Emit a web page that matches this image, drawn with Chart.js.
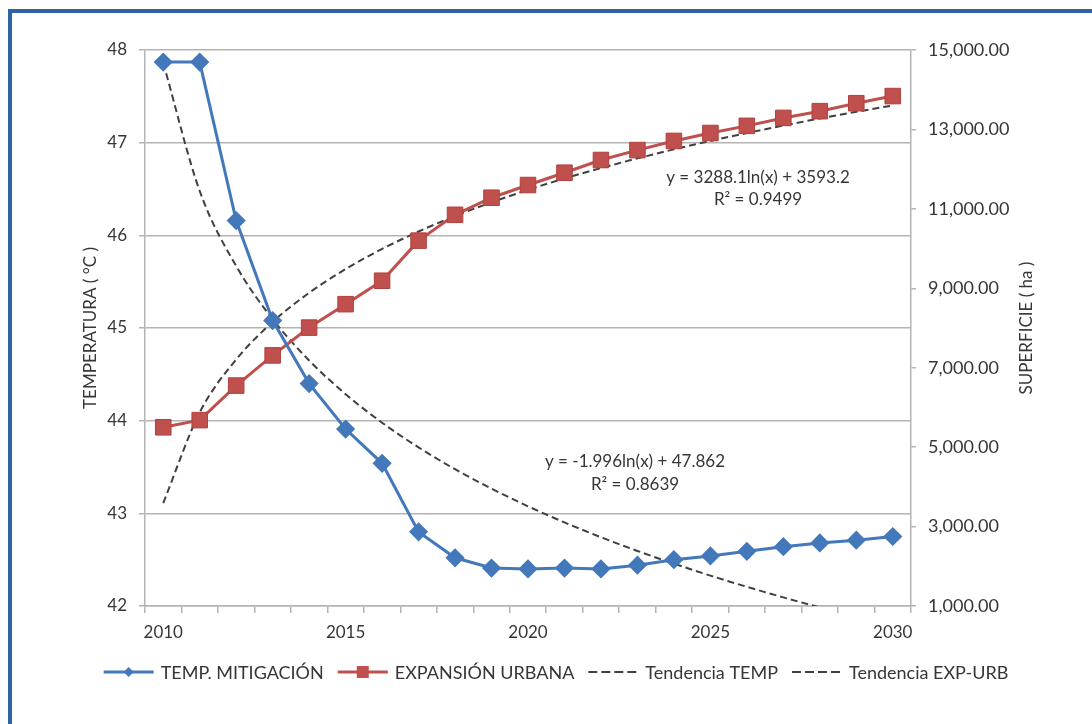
<!DOCTYPE html>
<html lang="es">
<head>
<meta charset="UTF-8">
<title>Temperatura y expansión urbana</title>
<script src="https://cdn.jsdelivr.net/npm/chart.js@4.4.1/dist/chart.umd.min.js"></script>
<style>
  html, body { margin: 0; padding: 0; background: #fff; }
  .wrap { position: relative; width: 1092px; height: 724px; overflow: hidden; }
  .frame {
    position: absolute; left: 8px; top: 9px; width: 1200px; height: 800px;
    border: 4px solid #2f64a0; pointer-events: none;
  }
  canvas { position: absolute; left: 0; top: 0; }
</style>
</head>
<body>
<div class="wrap">
  <canvas id="chart" width="1092" height="724"></canvas>
  <div class="frame"></div>
</div>
<script>
// años
const years = [2010, 2011, 2012, 2013, 2014, 2015, 2016, 2017, 2018, 2019, 2020,
               2021, 2022, 2023, 2024, 2025, 2026, 2027, 2028, 2029, 2030];

// temperatura con mitigación (°C)
const tempMitigacion = [47.87, 47.87, 46.16, 45.08, 44.40, 43.91, 43.54, 42.80, 42.52, 42.41, 42.40,
                        42.41, 42.40, 42.44, 42.50, 42.54, 42.59, 42.64, 42.68, 42.71, 42.75];

// superficie urbana (ha)
const expansionUrbana = [5500, 5680, 6550, 7310, 8010, 8600, 9190, 10200, 10850, 11280, 11600,
                         11910, 12230, 12480, 12710, 12910, 13090, 13290, 13460, 13660, 13840];

// líneas de tendencia logarítmica
const tendenciaTemp = [47.862, 46.478, 45.669, 45.095, 44.650, 44.286, 43.978, 43.712, 43.476, 43.266, 43.076,
                       42.902, 42.742, 42.594, 42.457, 42.328, 42.207, 42.093, 41.985, 41.883, 41.785];
const tendenciaExp = [3593, 5872, 7206, 8152, 8885, 9485, 9991, 10430, 10818, 11164, 11478,
                      11764, 12027, 12271, 12498, 12710, 12909, 13097, 13275, 13443, 13604];

const ecuacionExp = ['y = 3288.1ln(x) + 3593.2', 'R\u00B2 = 0.9499'];
const ecuacionTemp = ['y = -1.996ln(x) + 47.862', 'R\u00B2 = 0.8639'];

const BLUE = '#4378bb';
const RED = '#c0504d';
const DASH = '#404040';
const GRID = '#b4b4b4';
const TEXT = '#363636';

Chart.defaults.font.family = 'Lato';
Chart.defaults.color = TEXT;

// título del eje derecho, ecuaciones y leyenda
const extras = {
  id: 'extras',
  afterDraw(chart) {
    const ctx = chart.ctx;
    const area = chart.chartArea;
    ctx.save();
    ctx.fillStyle = TEXT;
    ctx.textAlign = 'center';
    ctx.textBaseline = 'middle';

    ctx.save();
    ctx.translate(1027, (area.top + area.bottom) / 2);
    ctx.rotate(-Math.PI / 2);
    ctx.font = '17px Lato';
    ctx.fillText('SUPERFICIE ( ha )', 0, 0);
    ctx.restore();

    ctx.font = '17px Lato';
    ctx.fillText(ecuacionExp[0], 758, 178);
    ctx.fillText(ecuacionExp[1], 758, 200);
    ctx.fillText(ecuacionTemp[0], 635, 462);
    ctx.fillText(ecuacionTemp[1], 635, 485);

    // leyenda
    ctx.font = '18px Lato';
    const lineW = 50, gapIn = 7, gapOut = 14, ly = 672;
    const items = chart.data.datasets.map(ds => ({
      ds, w: ctx.measureText(ds.label).width
    }));
    const total = items.reduce((s, it) => s + lineW + gapIn + it.w, 0) + gapOut * (items.length - 1);
    let x = 556 - total / 2;
    ctx.textAlign = 'left';
    items.forEach(it => {
      const ds = it.ds;
      ctx.save();
      ctx.strokeStyle = ds.borderColor;
      ctx.lineWidth = ds.borderDash ? 2 : 3;
      if (ds.borderDash) ctx.setLineDash([9, 4]);
      ctx.beginPath();
      ctx.moveTo(x, ly);
      ctx.lineTo(x + lineW, ly);
      ctx.stroke();
      ctx.restore();
      const cx = x + lineW / 2;
      ctx.fillStyle = ds.borderColor;
      if (ds.pointStyle === 'rectRot') {
        ctx.beginPath();
        ctx.moveTo(cx, ly - 5); ctx.lineTo(cx + 5, ly);
        ctx.lineTo(cx, ly + 5); ctx.lineTo(cx - 5, ly);
        ctx.closePath(); ctx.fill();
      } else if (ds.pointStyle === 'rect') {
        ctx.fillRect(cx - 6, ly - 6, 12, 12);
      }
      ctx.fillStyle = TEXT;
      ctx.fillText(ds.label, x + lineW + gapIn, ly + 1);
      x += lineW + gapIn + it.w + gapOut;
    });
    ctx.restore();
  }
};

new Chart(document.getElementById('chart'), {
  type: 'line',
  data: {
    labels: years,
    datasets: [{
      label: 'TEMP. MITIGACIÓN',
      data: tempMitigacion,
      yAxisID: 'y',
      borderColor: BLUE,
      backgroundColor: BLUE,
      borderWidth: 3,
      pointStyle: 'rectRot',
      pointRadius: 7.5,
      tension: 0
    }, {
      label: 'EXPANSIÓN URBANA',
      data: expansionUrbana,
      yAxisID: 'y2',
      borderColor: RED,
      backgroundColor: RED,
      borderWidth: 3,
      pointStyle: 'rect',
      pointRadius: 11,
      pointBorderColor: '#b0413e',
      pointBorderWidth: 1,
      tension: 0
    }, {
      label: 'Tendencia TEMP',
      data: tendenciaTemp,
      yAxisID: 'y',
      borderColor: DASH,
      borderWidth: 2,
      borderDash: [7, 4],
      pointRadius: 0,
      cubicInterpolationMode: 'monotone'
    }, {
      label: 'Tendencia EXP-URB',
      data: tendenciaExp,
      yAxisID: 'y2',
      borderColor: DASH,
      borderWidth: 2,
      borderDash: [7, 4],
      pointRadius: 0,
      cubicInterpolationMode: 'monotone'
    }]
  },
  options: {
    responsive: false,
    animation: false,
    devicePixelRatio: 1,
    layout: { padding: { top: 50, bottom: 68, left: 0, right: 0 } },
    plugins: {
      legend: { display: false },
      tooltip: { enabled: false }
    },
    scales: {
      x: {
        type: 'category',
        offset: true,
        grid: { offset: true, drawOnChartArea: false, tickLength: 7, color: GRID, lineWidth: 1.5 },
        border: { display: true, color: GRID, width: 1.5 },
        ticks: {
          autoSkip: false,
          maxRotation: 0,
          padding: 9,
          font: { size: 17 },
          callback: (v, i) => (years[i] % 5 === 0 ? String(years[i]) : '')
        },
        afterFit(s) { s.height = 50; }
      },
      y: {
        position: 'left',
        min: 42,
        max: 48,
        ticks: { stepSize: 1, padding: 12, font: { size: 17 } },
        grid: { color: GRID, lineWidth: 1.5, tickLength: 6 },
        border: { display: true, color: GRID, width: 1.5 },
        title: {
          display: true,
          text: 'TEMPERATURA ( °C )',
          font: { size: 17 },
          padding: { top: 80, bottom: 0 }
        },
        afterFit(s) { s.width = 145; }
      },
      y2: {
        position: 'right',
        min: 1000,
        max: 15000,
        ticks: {
          stepSize: 2000,
          padding: 12,
          font: { size: 18 },
          callback: v => v.toLocaleString('en-US', { minimumFractionDigits: 2, maximumFractionDigits: 2 })
        },
        grid: { drawOnChartArea: false, tickLength: 5, color: GRID, lineWidth: 1.5 },
        border: { display: true, color: GRID, width: 1.5 },
        afterFit(s) { s.width = 181; }
      }
    }
  },
  plugins: [extras]
});
</script>
</body>
</html>
